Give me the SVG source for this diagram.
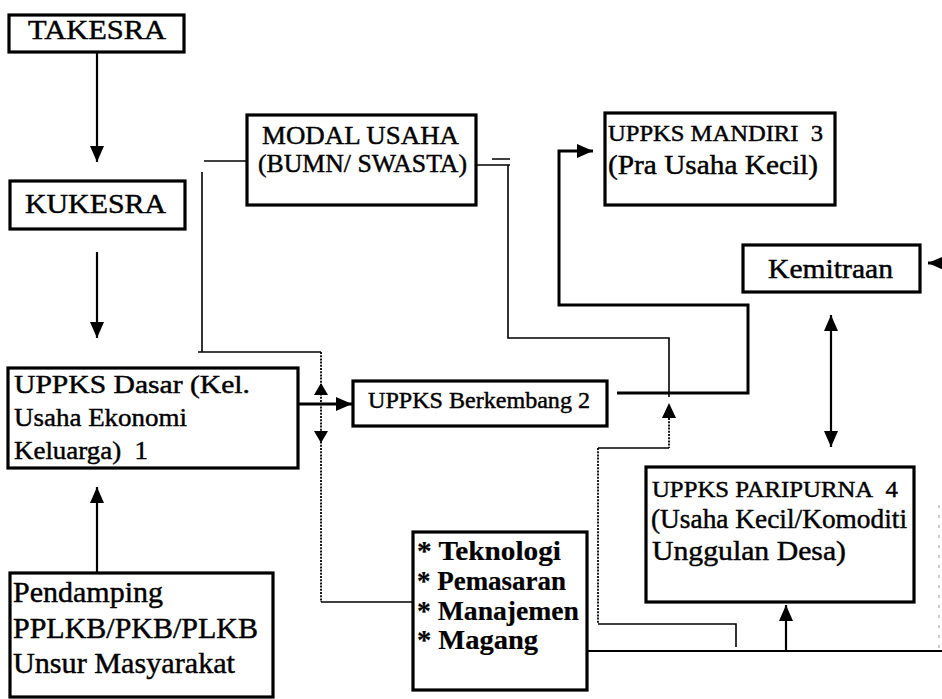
<svg xmlns="http://www.w3.org/2000/svg" width="942" height="699" viewBox="0 0 942 699" font-family="'Liberation Serif', 'Times New Roman', serif">
<defs>
<marker id="arr" markerUnits="userSpaceOnUse" markerWidth="16" markerHeight="16" refX="16" refY="8" orient="auto-start-reverse" viewBox="0 0 16 16"><path d="M0,1 L16,8 L0,15 z" fill="#000"/></marker>
</defs>
<style>
.box{fill:#fff;stroke:#000;stroke-width:3.2}
.t{font-family:'Liberation Serif','Times New Roman',serif;fill:#000;stroke:#000;stroke-width:0.45}
.f24{font-size:24px}
.f26{font-size:26px}
.f28{font-size:28px}
.f30{font-size:30px}
.b27{font-size:27px;font-weight:bold;stroke-width:0.2}
.thick{fill:none;stroke:#000;stroke-width:3}
.arrow{fill:none;stroke:#000;stroke-width:2.2}
.thin{fill:none;stroke:#000;stroke-width:1.6}
.dot{fill:none;stroke:#000;stroke-width:1.8;stroke-dasharray:2 1.2}
.ah{fill:#000}
</style>
<rect width="942" height="699" fill="#fff"/>

<g id="takesra">
<rect class="box" x="9" y="15" width="175" height="37"/>
<text class="t f28" font-family="Liberation Serif, serif" x="28" y="39" textLength="138" lengthAdjust="spacingAndGlyphs">TAKESRA</text>
</g>
<g id="kukesra">
<rect class="box" x="10" y="181" width="175" height="48"/>
<text class="t f28" font-family="Liberation Serif, serif" x="25" y="213" textLength="141" lengthAdjust="spacingAndGlyphs">KUKESRA</text>
</g>
<g id="modal">
<rect class="box" x="247" y="115" width="229" height="90"/>
<text class="t f26" font-family="Liberation Serif, serif" x="262" y="144" textLength="197" lengthAdjust="spacingAndGlyphs">MODAL USAHA</text>
<text class="t f26" font-family="Liberation Serif, serif" x="258" y="172" textLength="209" lengthAdjust="spacingAndGlyphs">(BUMN/ SWASTA)</text>
</g>
<g id="mandiri">
<rect class="box" x="605" y="113" width="230" height="92"/>
<text class="t f24" font-family="Liberation Serif, serif" x="608" y="141" textLength="215" lengthAdjust="spacingAndGlyphs">UPPKS MANDIRI&#160; 3</text>
<text class="t f28" font-family="Liberation Serif, serif" x="608" y="174" textLength="210" lengthAdjust="spacingAndGlyphs">(Pra Usaha Kecil)</text>
</g>
<g id="kemitraan">
<rect class="box" x="743" y="245" width="177" height="47"/>
<text class="t f28" font-family="Liberation Serif, serif" x="768" y="278" textLength="125" lengthAdjust="spacingAndGlyphs">Kemitraan</text>
</g>
<g id="dasar">
<rect class="box" x="8" y="368" width="290" height="100"/>
<text class="t f26" font-family="Liberation Serif, serif" x="14" y="393" textLength="236" lengthAdjust="spacingAndGlyphs">UPPKS Dasar (Kel.</text>
<text class="t f26" font-family="Liberation Serif, serif" x="14" y="426" textLength="173" lengthAdjust="spacingAndGlyphs">Usaha Ekonomi</text>
<text class="t f26" font-family="Liberation Serif, serif" x="14" y="459" textLength="134" lengthAdjust="spacingAndGlyphs">Keluarga)&#160; 1</text>
</g>
<g id="berkembang">
<rect class="box" x="353" y="381" width="254" height="45"/>
<text class="t f24" font-family="Liberation Serif, serif" x="368" y="408" textLength="222" lengthAdjust="spacingAndGlyphs">UPPKS Berkembang 2</text>
</g>
<g id="paripurna">
<rect class="box" x="646" y="467" width="268" height="135"/>
<text class="t f24" font-family="Liberation Serif, serif" x="652" y="497" textLength="246" lengthAdjust="spacingAndGlyphs">UPPKS PARIPURNA&#160; 4</text>
<text class="t f28" font-family="Liberation Serif, serif" x="651" y="528" textLength="256" lengthAdjust="spacingAndGlyphs">(Usaha Kecil/Komoditi</text>
<text class="t f28" font-family="Liberation Serif, serif" x="652" y="560" textLength="194" lengthAdjust="spacingAndGlyphs">Unggulan Desa)</text>
</g>
<g id="teknologi">
<rect class="box" x="413" y="532" width="174" height="158"/>
<text class="t b27" font-family="Liberation Serif, serif" x="417" y="560" textLength="144" lengthAdjust="spacingAndGlyphs">* Teknologi</text>
<text class="t b27" font-family="Liberation Serif, serif" x="417" y="590" textLength="149" lengthAdjust="spacingAndGlyphs">* Pemasaran</text>
<text class="t b27" font-family="Liberation Serif, serif" x="417" y="620" textLength="162" lengthAdjust="spacingAndGlyphs">* Manajemen</text>
<text class="t b27" font-family="Liberation Serif, serif" x="417" y="649" textLength="121" lengthAdjust="spacingAndGlyphs">* Magang</text>
</g>
<g id="pendamping">
<rect class="box" x="10" y="573" width="263" height="124"/>
<text class="t f30" font-family="Liberation Serif, serif" x="13" y="602" textLength="150" lengthAdjust="spacingAndGlyphs">Pendamping</text>
<text class="t f30" font-family="Liberation Serif, serif" x="13" y="638" textLength="245" lengthAdjust="spacingAndGlyphs">PPLKB/PKB/PLKB</text>
<text class="t f30" font-family="Liberation Serif, serif" x="13" y="673" textLength="222" lengthAdjust="spacingAndGlyphs">Unsur Masyarakat</text>
</g>

<g id="connectors">
<path class="arrow" d="M97,52 V162" marker-end="url(#arr)"/>
<path class="arrow" d="M97,252 V338" marker-end="url(#arr)"/>
<path class="arrow" d="M97,573 V487" marker-end="url(#arr)"/>
<path class="thick" d="M298,404 H352" marker-end="url(#arr)"/>
<path class="thin" d="M204,161 H247"/>
<path class="thin" d="M202,172 V352 M198,352 H321"/>
<path class="dot" d="M321,352 V602"/>
<path class="thin" d="M321,602 H413"/>
<polygon class="ah" points="321,383 314,395 328,395"/>
<polygon class="ah" points="321,443 314,431 328,431"/>
<path class="thin" d="M476,165 H510 M492,159 H510"/>
<path class="thin" d="M508,165 V338 H669 V397"/>
<polygon class="ah" points="669,403 662,418 676,418"/>
<path class="dot" d="M669,418 V448"/>
<path class="thin" d="M669,448 H598"/>
<path class="dot" d="M598,448 V624"/>
<path class="thin" d="M598,624 H736 V647"/>
<path class="thick" d="M617,393 H748 V305 H559 V151 H593" marker-end="url(#arr)"/>
<path class="arrow" d="M587,651 H942"/>
<path class="arrow" d="M786,651 V605" marker-end="url(#arr)"/>
<path class="thick" d="M942,263 H928" marker-end="url(#arr)"/>
<path class="arrow" d="M831,315 V447" marker-start="url(#arr)" marker-end="url(#arr)"/>
<path d="M939,505 V648" fill="none" stroke="#999" stroke-width="1" stroke-dasharray="3 7"/>
</g>
</svg>
